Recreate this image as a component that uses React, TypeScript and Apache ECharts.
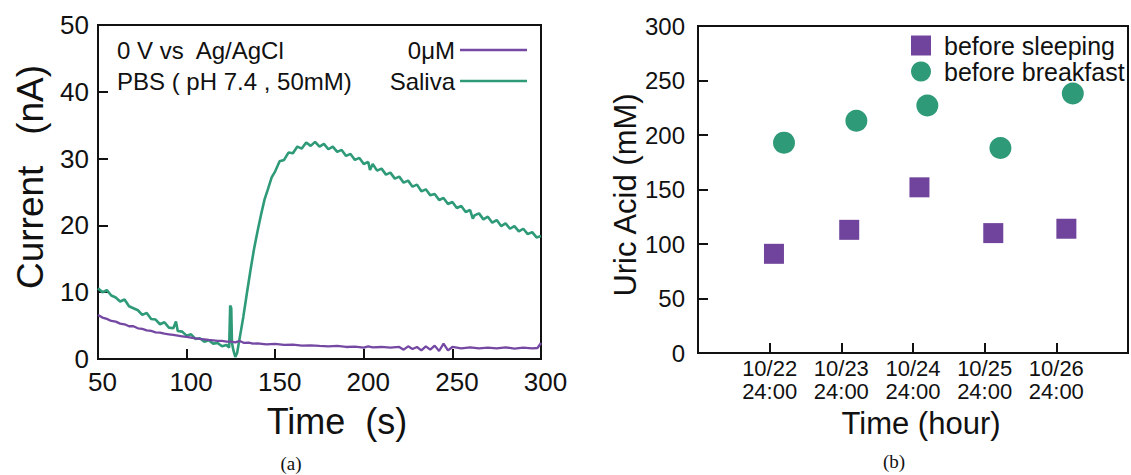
import React, { useEffect, useRef } from "react";
import * as echarts from "echarts";

// ---- (a) amperometric response: [time (s), current (nA)] ----
const salivaCurrent: [number, number][] = [
  [50, 10.6], [52.5, 10.0], [55, 10.3], [57.5, 9.5], [60, 9.2], [62.5, 8.6], [65, 8.9],
  [67.5, 7.9], [70, 7.6], [72.5, 7.3], [75, 6.6], [77.5, 6.9], [80, 6.0], [82.5, 5.9],
  [85, 5.2], [87.5, 5.5], [90, 4.7], [92.5, 4.6], [94, 5.6], [95, 4.2], [97.5, 4.1],
  [100, 3.5], [102.5, 3.7], [105, 3.0], [107.5, 3.1], [110, 2.6], [112.5, 2.8], [115, 2.3],
  [117.5, 2.4], [120, 1.9], [122.5, 2.1], [124, 1.7], [124.6, 8.0], [125.2, 7.6], [125.6, 2.4],
  [126.5, 1.2], [127.5, 0.3], [128.5, 0.9], [130, 3.2], [132, 6.3], [134, 9.8], [136, 13.2],
  [138, 16.4], [140, 19.1], [142, 21.6], [144, 23.9], [146, 25.5], [148, 27.2],
  [150, 28.1], [152.5, 29.6], [155, 29.8], [157.5, 30.9], [160, 30.8], [162.5, 31.8],
  [165, 31.5], [167.5, 32.4], [170, 31.9], [172.5, 32.5], [175, 31.8], [177.5, 32.2],
  [180, 31.4], [182.5, 31.8], [185, 31.0], [187.5, 31.3], [190, 30.4], [192.5, 30.7],
  [195, 29.8], [197.5, 30.1], [200, 29.2], [202.5, 29.5], [203.5, 28.3], [205, 29.2],
  [207.5, 28.2], [210, 28.5], [212.5, 27.6], [215, 27.9], [217.5, 27.0], [220, 27.3],
  [222.5, 26.4], [225, 26.7], [227.5, 25.8], [230, 26.1], [232.5, 25.1], [235, 25.4],
  [237.5, 24.5], [240, 24.7], [242.5, 23.8], [245, 24.1], [247.5, 23.2], [250, 23.5],
  [252.5, 22.6], [255, 22.9], [257.5, 22.0], [260, 22.3], [261.5, 21.0], [262.5, 21.5],
  [265, 21.8], [267.5, 20.9], [270, 21.3], [272.5, 20.4], [275, 20.8], [277.5, 19.9],
  [280, 20.3], [282.5, 19.5], [285, 19.9], [287.5, 19.1], [290, 19.5], [292.5, 18.7],
  [295, 19.0], [297.5, 18.2], [300, 18.4],
];

const zeroMicroMCurrent: [number, number][] = [
  [50, 6.6], [52.5, 6.2], [55, 6.0], [57.5, 5.7], [60, 5.6], [62.5, 5.3], [65, 5.2],
  [67.5, 4.9], [70, 4.9], [72.5, 4.6], [75, 4.5], [77.5, 4.3], [80, 4.2], [82.5, 4.0],
  [85, 3.95], [87.5, 3.8], [90, 3.7], [92.5, 3.6], [95, 3.5], [97.5, 3.4], [100, 3.3],
  [102.5, 3.2], [105, 3.1], [107.5, 3.0], [110, 2.95], [112.5, 2.85], [115, 2.8],
  [117.5, 2.7], [120, 2.7], [122.5, 2.6], [125, 2.6], [127.5, 2.5], [130, 2.7],
  [132.5, 2.4], [135, 2.45], [137.5, 2.3], [140, 2.35], [145, 2.2], [150, 2.25],
  [155, 2.1], [160, 2.15], [165, 2.0], [170, 2.05], [175, 1.95], [180, 1.9], [185, 1.95],
  [190, 1.8], [195, 1.85], [200, 1.7], [202.5, 1.9], [205, 1.75], [210, 1.8], [215, 1.7],
  [220, 1.8], [222.5, 1.4], [225, 1.9], [227.5, 1.5], [230, 1.8], [232.5, 1.3], [235, 1.9],
  [237.5, 1.4], [240, 2.0], [242.5, 1.2], [245, 2.3], [247.5, 1.3], [250, 1.8], [255, 1.6],
  [260, 1.75], [265, 1.6], [270, 1.7], [275, 1.6], [280, 1.75], [285, 1.55], [290, 1.7],
  [295, 1.6], [298, 1.65], [300, 2.4],
];

// ---- (b) uric acid per day ----
const dayLabels = ["10/22\n24:00", "10/23\n24:00", "10/24\n24:00", "10/25\n24:00", "10/26\n24:00"];
const sleepingX = [1.06, 2.11, 3.09, 4.12, 5.14];
const sleepingUA = [91, 113, 152, 110, 114];
const breakfastX = [1.2, 2.21, 3.2, 4.22, 5.23];
const breakfastUA = [193, 213, 227, 188, 238];

const FONT = "Liberation Sans";
const INK = "#111";
const PURPLE = "#7448a3";
const GREEN = "#2e9a78";

function buildOption() {
  const axisCommon = {
    axisLine: { show: true, lineStyle: { color: INK, width: 2 } },
    axisTick: { show: true, inside: true, length: 10, lineStyle: { color: INK, width: 2 } },
    splitLine: { show: false },
  };
  return {
    animation: false,
    backgroundColor: "#fff",
    grid: [
      { left: 98, top: 25, width: 443, height: 334, show: true, borderColor: INK, borderWidth: 2 },
      { left: 698, top: 26, width: 431, height: 327, show: true, borderColor: INK, borderWidth: 2 },
    ],
    xAxis: [
      {
        gridIndex: 0, type: "value", min: 50, max: 300, interval: 50, ...axisCommon,
        axisLabel: { fontSize: 26, color: INK, fontFamily: FONT, margin: 10, padding: [0, 0, 0, 9] },
      },
      {
        gridIndex: 1, type: "value", min: 0, max: 6, interval: 1, ...axisCommon,
        axisLabel: {
          fontSize: 22, lineHeight: 23, color: INK, fontFamily: FONT, margin: 4,
          formatter: (v: number) => (v >= 1 && v <= 5 ? dayLabels[v - 1] : ""),
        },
      },
    ],
    yAxis: [
      {
        gridIndex: 0, type: "value", min: 0, max: 50, interval: 10, ...axisCommon,
        axisLabel: { fontSize: 26, color: INK, fontFamily: FONT, margin: 9 },
      },
      {
        gridIndex: 1, type: "value", min: 0, max: 300, interval: 50, ...axisCommon,
        axisLabel: { fontSize: 24, color: INK, fontFamily: FONT, margin: 13 },
      },
    ],
    legend: [
      {
        data: ["0μM", "Saliva"], orient: "vertical", right: 604, top: 38, align: "right",
        padding: 0, icon: "rect", itemWidth: 67, itemHeight: 2.5, itemGap: 7,
        textStyle: { fontSize: 24, color: INK, fontFamily: FONT },
      },
      {
        data: ["before sleeping", "before breakfast"], orient: "vertical", left: 911, top: 33,
        padding: 0, itemWidth: 20, itemHeight: 20, itemGap: 1,
        textStyle: { fontSize: 25, color: INK, fontFamily: FONT, padding: [0, 0, 0, 8] },
      },
    ],
    series: [
      {
        name: "Saliva", type: "line", xAxisIndex: 0, yAxisIndex: 0, data: salivaCurrent,
        showSymbol: false, lineStyle: { color: GREEN, width: 2.6 }, itemStyle: { color: GREEN },
      },
      {
        name: "0μM", type: "line", xAxisIndex: 0, yAxisIndex: 0, data: zeroMicroMCurrent,
        showSymbol: false, lineStyle: { color: PURPLE, width: 2.3 }, itemStyle: { color: PURPLE },
      },
      {
        name: "before sleeping", type: "scatter", xAxisIndex: 1, yAxisIndex: 1,
        data: sleepingX.map((x, i) => [x, sleepingUA[i]]),
        symbol: "rect", symbolSize: 20, itemStyle: { color: "#70449c", opacity: 1 },
      },
      {
        name: "before breakfast", type: "scatter", xAxisIndex: 1, yAxisIndex: 1,
        data: breakfastX.map((x, i) => [x, breakfastUA[i]]),
        symbol: "circle", symbolSize: 22, itemStyle: { color: GREEN, opacity: 1 },
      },
    ],
    graphic: [
      {
        type: "text", x: 30, y: 177, rotation: Math.PI / 2,
        style: { text: "Current   (nA)", fontSize: 37, fontFamily: FONT, fill: INK, align: "center", verticalAlign: "middle" },
      },
      {
        type: "text", x: 337, y: 421,
        style: { text: "Time  (s)", fontSize: 36, fontFamily: FONT, fill: INK, align: "center", verticalAlign: "middle" },
      },
      {
        type: "text", x: 117, y: 50,
        style: { text: "0 V vs  Ag/AgCl", fontSize: 24, fontFamily: FONT, fill: INK, align: "left", verticalAlign: "middle" },
      },
      {
        type: "text", x: 117, y: 81,
        style: { text: "PBS ( pH 7.4 , 50mM)", fontSize: 24, fontFamily: FONT, fill: INK, align: "left", verticalAlign: "middle" },
      },
      {
        type: "text", x: 625, y: 195, rotation: Math.PI / 2,
        style: { text: "Uric Acid (mM)", fontSize: 31, fontFamily: FONT, fill: INK, align: "center", verticalAlign: "middle" },
      },
      {
        type: "text", x: 921, y: 423,
        style: { text: "Time (hour)", fontSize: 31, fontFamily: FONT, fill: INK, align: "center", verticalAlign: "middle" },
      },
      {
        type: "text", x: 291, y: 463,
        style: { text: "(a)", fontSize: 19, fontFamily: "Liberation Serif", fill: INK, align: "center", verticalAlign: "middle" },
      },
      {
        type: "text", x: 894, y: 461,
        style: { text: "(b)", fontSize: 19, fontFamily: "Liberation Serif", fill: INK, align: "center", verticalAlign: "middle" },
      },
    ],
  };
}

export default function App() {
  const ref = useRef<HTMLDivElement>(null);
  useEffect(() => {
    document.body.style.margin = "0";
    const chart = echarts.init(ref.current as HTMLDivElement, null, { renderer: "svg" });
    chart.setOption(buildOption() as any);
    return () => chart.dispose();
  }, []);
  return <div ref={ref} style={{ width: 1131, height: 475 }} />;
}
